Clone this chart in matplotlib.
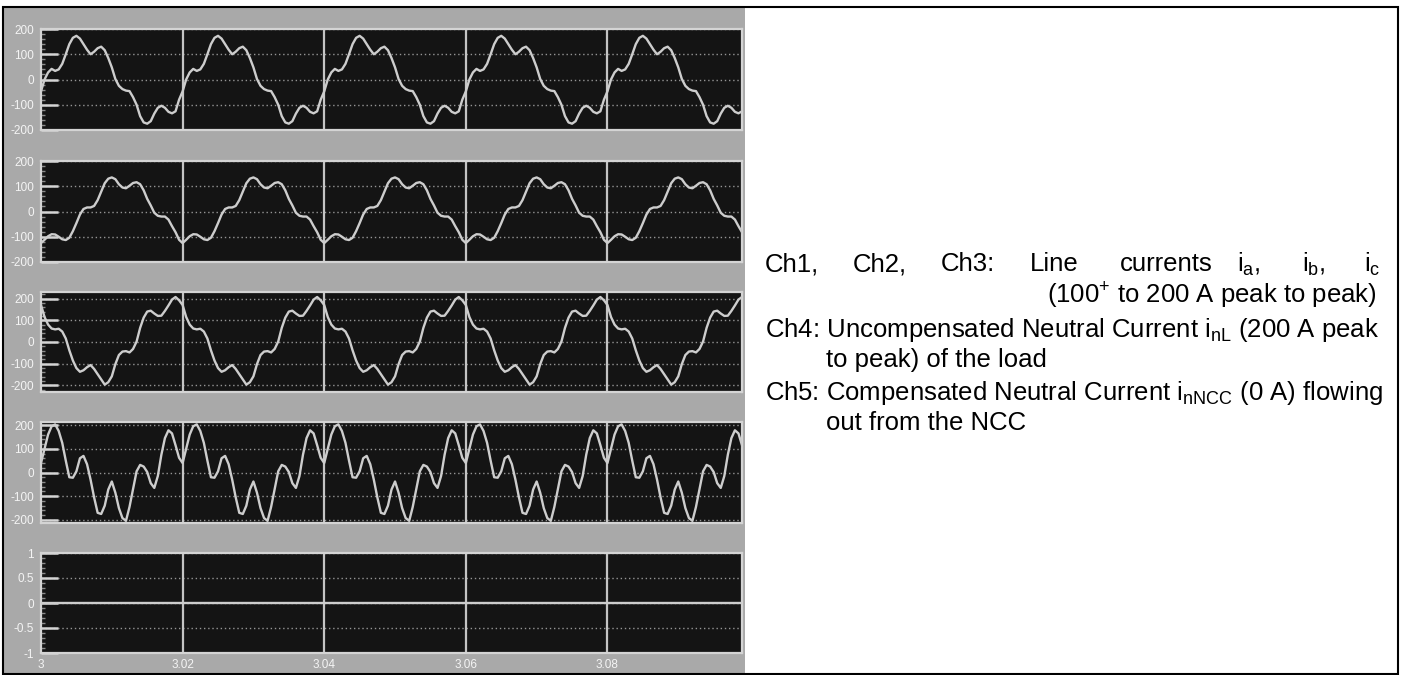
import numpy as np
import matplotlib.pyplot as plt
from matplotlib.patches import Rectangle

plt.rcParams['font.family'] = ['Liberation Sans', 'DejaVu Sans']
plt.rcParams['mathtext.fontset'] = 'custom'
plt.rcParams['mathtext.rm'] = 'Liberation Sans'

# one 20 ms cycle of each channel, sampled every 0.5 ms (A)
ch1_cycle = [-47, 0, 28, 42, 34, 40, 62, 100, 140, 165, 173, 162, 140, 118, 100, 110, 124, 130, 116, 85,
             48, 2, -25, -38, -44, -46, -70, -100, -145, -170, -175, -165, -135, -112, -104, -112, -128, -134, -126, -80]
ch2_cycle = [-125, -112, -98, -90, -91, -100, -110, -113, -104, -78, -46, -12, 10, 16, 16, 22, 45, 78, 112, 130,
             135, 128, 108, 95, 92, 102, 113, 116, 108, 84, 50, 24, -5, -17, -20, -20, -32, -58, -82, -112]
ch3_cycle = [170, 115, 80, 62, 58, 61, 48, 16, -38, -85, -120, -137, -130, -116, -106, -124, -148, -172, -196, -185,
             -158, -102, -60, -44, -42, -48, -32, 2, 65, 112, 140, 144, 131, 120, 121, 143, 168, 195, 207, 192]
ch4_cycle = [40, 100, 160, 195, 203, 175, 125, 50, -20, -22, 5, 60, 70, 35, -30, -105, -170, -175, -140, -72,
             -38, -85, -150, -192, -204, -145, -70, 5, 32, 25, 2, -45, -65, -15, 75, 145, 178, 165, 115, 62]
ch5_cycle = [0] * 40

t_start = 3.0
t_step = 0.5e-3
n_cycles = 5

channels = [ch1_cycle, ch2_cycle, ch3_cycle, ch4_cycle, ch5_cycle]
y_limits = [200, 200, 230, 213, 1]
y_ticks = [[-200, -100, 0, 100, 200]] * 4 + [[-1, -0.5, 0, 0.5, 1]]
y_ticklabels = [['-200', '-100', '0', '100', '200']] * 4 + [['-1', '-0.5', '0', '0.5', '1']]
x_ticks = [3.0, 3.02, 3.04, 3.06, 3.08]
x_ticklabels = ['3', '3.02', '3.04', '3.06', '3.08']

# panel rows in pixels (top, bottom)
rows = [(29, 130), (161, 262), (292, 392), (422, 523), (553, 653)]

W, H = 1401, 675
fig = plt.figure(figsize=(W / 100, H / 100), dpi=100)
fig.patch.set_facecolor('white')

def px(x0, y0, x1, y1):
    return [x0 / W, 1 - y1 / H, (x1 - x0) / W, (y1 - y0) / H]

# scope background and outer frame
fig.patches.append(Rectangle((4 / W, 0), 741 / W, 1 - 8 / H, transform=fig.transFigure,
                             facecolor='#a9a9a9', edgecolor='none', zorder=-10))
fig.patches.append(Rectangle((3 / W, 1 / H), 1395 / W, 1 - 8 / H, transform=fig.transFigure,
                             facecolor='none', edgecolor='black', lw=1.5, zorder=5))

fg = '#d4d4d4'
for i, cyc in enumerate(channels):
    top, bot = rows[i]
    ax = fig.add_axes(px(41, top, 742, bot))
    ax.set_facecolor('#141414')
    vals = np.array(list(np.tile(cyc, n_cycles)) + [cyc[0]], dtype=float)
    t = t_start + np.arange(len(vals)) * t_step
    ax.plot(t, vals, color='#cdcdcd', lw=1.7, zorder=3)
    ax.set_xlim(3.0, 3.099)
    ax.set_ylim(-y_limits[i], y_limits[i])
    ax.set_yticks(y_ticks[i])
    ax.set_yticklabels(y_ticklabels[i])
    ax.set_xticks(x_ticks)
    if i == 4:
        ax.set_xticklabels(x_ticklabels)
    else:
        ax.set_xticklabels([])
    for yv in y_ticks[i]:
        ax.axhline(yv, color='#959595', lw=1, ls=(0, (1, 2)), zorder=1)
    for xv in x_ticks[1:]:
        ax.axvline(xv, color='#c4c4c4', lw=1.6, zorder=2)
    ax.tick_params(axis='y', direction='in', length=12, width=1.8, color=fg,
                   labelcolor='#f4f4f4', labelsize=8.5, pad=5)
    ax.tick_params(axis='x', direction='in', length=0, labelcolor='#f4f4f4',
                   labelsize=8.5, pad=4)
    ax.minorticks_on()
    ax.tick_params(which='minor', direction='in', length=3, width=1, color='#8a8a8a')
    ax.tick_params(axis='x', which='minor', length=0)
    for s in ax.spines.values():
        s.set_color(fg)
        s.set_linewidth(1.6)

# description on the right
fs = 18.5
y1 = 1 - 264 / H
words = ['Ch1,', 'Ch2,', 'Ch3:', 'Line', 'currents',
         r'i$\mathregular{_{a}}$,', r'i$\mathregular{_{b}}$,', r'i$\mathregular{_{c}}$']
word_x = [765, 853, 941, 1030, 1120, 1237, 1302, 1364]
for w, x in zip(words, word_x):
    fig.text(x / W, y1, w, fontsize=fs, va='center', ha='left')
fig.text(1377 / W, 1 - 296 / H, r'(100$\mathregular{^{+}}$ to 200 A peak to peak)',
         fontsize=fs, va='center', ha='right')
fig.text(765 / W, 1 - 330 / H, r'Ch4: Uncompensated Neutral Current i$\mathregular{_{nL}}$ (200 A peak',
         fontsize=fs, va='center', ha='left')
fig.text(826 / W, 1 - 360 / H, 'to peak) of the load', fontsize=fs, va='center', ha='left')
fig.text(765 / W, 1 - 393 / H, r'Ch5: Compensated Neutral Current i$\mathregular{_{nNCC}}$ (0 A) flowing',
         fontsize=fs, va='center', ha='left')
fig.text(826 / W, 1 - 423 / H, 'out from the NCC', fontsize=fs, va='center', ha='left')

fig.savefig('out.png', dpi=100, facecolor='white')
